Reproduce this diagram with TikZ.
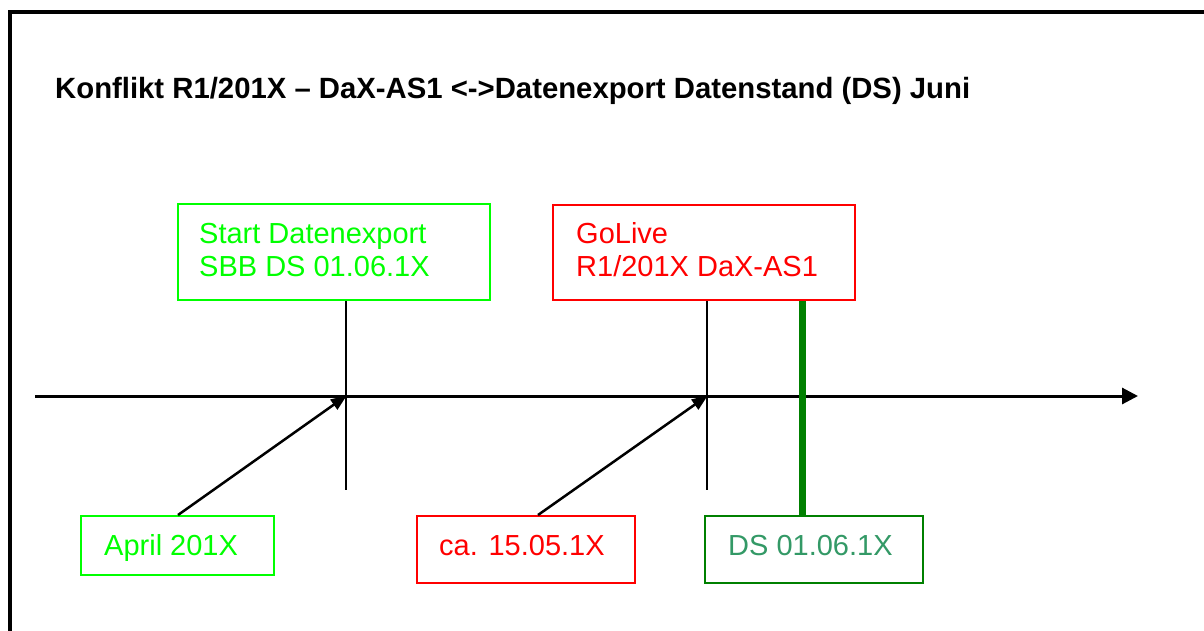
\documentclass[tikz,border=0pt]{standalone}
\usepackage{fontspec}
\setmainfont{Liberation Sans}
\usetikzlibrary{arrows.meta}
\definecolor{brightgreen}{HTML}{00FF00}
\definecolor{pured}{HTML}{FF0000}
\definecolor{darkgreen}{HTML}{008000}
\definecolor{seagreen}{HTML}{339966}
\begin{document}
\begin{tikzpicture}[x=1pt,y=-1pt,
  box/.style={draw, line width=2pt, rectangle, inner sep=0pt, fill=white},
  txt/.style={anchor=base west, inner sep=0pt, font=\fontsize{29}{33}\selectfont, align=left},
  tick/.style={line width=2pt},
  pointer/.style={line width=2.5pt, -{Triangle[length=16pt,width=12pt]}, shorten >=-1pt},
  axisline/.style={line width=3pt, -{Triangle[length=16pt,width=16pt]}}]
\useasboundingbox (0,0) rectangle (1204,630);
\clip (0,0) rectangle (1204,630);
\fill[white] (0,0) rectangle (1204,630);
% outer frame
\draw[line width=4pt] (10,12) rectangle (1230,660);
% title
\node[txt, font=\fontsize{29.3}{33}\selectfont\bfseries] (title) at (55,98)
  {Konflikt R1/201X -- DaX-AS1 <->Datenexport Datenstand (DS) Juni};
% coordinates
\coordinate (axL) at (35,396);
\coordinate (axR) at (1138,396);
\coordinate (t1) at (346,396);
\coordinate (t2) at (707,396);
\coordinate (t1end) at (346,490);
\coordinate (t2end) at (707,490);
\coordinate (g) at (802,396);
% boxes
\node[box, draw=brightgreen, minimum width=312pt, minimum height=96pt] (box1) at (334,252) {};
\node[box, draw=pured, minimum width=302pt, minimum height=95pt] (box2) at (704,252.5) {};
\node[box, draw=brightgreen, minimum width=193pt, minimum height=59pt] (boxA) at (177.5,545.5) {};
\node[box, draw=pured, minimum width=218pt, minimum height=67pt] (boxC) at (526,549.5) {};
\node[box, draw=darkgreen, minimum width=218pt, minimum height=67pt] (boxD) at (814,549.5) {};
% texts
\node[txt, text=brightgreen] (l1a) at (199,243) {Start Datenexport};
\node[txt, text=brightgreen] (l1b) at (199,276) {SBB DS 01.06.1X};
\node[txt, text=pured] (l2a) at (576,243) {GoLive};
\node[txt, text=pured] (l2b) at (576,276) {R1/201X DaX-AS1};
\node[txt, text=brightgreen] (lA) at (104,555) {April 201X};
\node[txt, text=pured] (lC) at (439,555) {ca. 15.05.1X};
\node[txt, text=seagreen] (lD) at (728,555) {DS 01.06.1X};
% axis
\draw[axisline] (axL) -- (axR);
% ticks
\draw[tick] (box1.south -| t1) -- (t1end);
\draw[tick] (box2.south -| t2) -- (t2end);
% thick green marker
\draw[line width=7pt, darkgreen] (box2.south -| g) -- (boxD.north -| g);
% pointers
\draw[pointer] ([xshift=0.5pt]boxA.north) -- (t1);
\draw[pointer] ([xshift=12pt]boxC.north) -- (t2);
\end{tikzpicture}
\end{document}
